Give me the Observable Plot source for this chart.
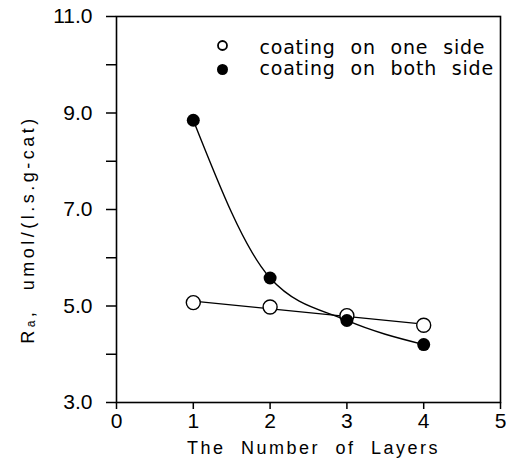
<!DOCTYPE html>
<html>
<head>
<meta charset="utf-8">
<script src="https://cdn.jsdelivr.net/npm/d3@7"></script>
<script src="https://cdn.jsdelivr.net/npm/@observablehq/plot@0.6"></script>
<style>
  body { margin: 0; background: white; }
</style>
</head>
<body>
<div id="chart"></div>
<script>
const layers = [1, 2, 3, 4];
const oneSide = [5.07, 4.98, 4.8, 4.6];
const bothSides = [8.85, 5.58, 4.7, 4.2];
const xTicks = [0, 1, 2, 3, 4, 5];
const yTicks = [3, 4, 5, 6, 7, 8, 9, 10, 11];
const legendLabels = ["coating on one side", "coating on both side"];
const xTitle = "The Number of Layers";
const yTitle = "Rₐ, umol/(l.s.g-cat)";

const oneData = layers.map((l, i) => ({layers: l, value: oneSide[i]}));
const bothData = layers.map((l, i) => ({layers: l, value: bothSides[i]}));

const chart = Plot.plot({
  width: 506,
  height: 459,
  marginLeft: 116,
  marginRight: 6,
  marginTop: 16,
  marginBottom: 57,
  x: {domain: [0, 5]},
  y: {domain: [3, 11]},
  style: {fontFamily: "'Liberation Sans', Arial, sans-serif", color: "black", background: "white", overflow: "visible"},
  marks: [
    Plot.frame({stroke: "black", strokeWidth: 1.6}),
    Plot.axisX({ticks: xTicks, tickSize: 7, tickPadding: 4, fontSize: 21, strokeWidth: 1.5, label: null, tickFormat: d => String(d)}),
    Plot.axisY({ticks: yTicks, tickSize: 10, tickPadding: 14, fontSize: 21, strokeWidth: 1.5, label: null, tickFormat: d => d % 2 ? d.toFixed(1) : ""}),
    Plot.linearRegressionY(oneData, {x: "layers", y: "value", ci: 0, stroke: "black", strokeWidth: 1.4}),
    Plot.line(bothData, {x: "layers", y: "value", curve: "monotone-x", stroke: "black", strokeWidth: 1.4}),
    Plot.dot(oneData, {x: "layers", y: "value", r: 7, fill: "white", stroke: "black", strokeWidth: 1.4}),
    Plot.dot(bothData, {x: "layers", y: "value", r: 6.5, fill: "black"}),
    Plot.dot([legendLabels[0]], {frameAnchor: "top-left", dx: 106, dy: 29, r: 4.5, fill: "white", stroke: "black", strokeWidth: 1.8}),
    Plot.dot([legendLabels[1]], {frameAnchor: "top-left", dx: 106, dy: 53, r: 5.5, fill: "black"}),
    Plot.text([legendLabels[0]], {frameAnchor: "top-left", dx: 143, dy: 31, textAnchor: "start", lineAnchor: "middle", fontSize: 19, fontFamily: "'DejaVu Sans', sans-serif", fill: "black"}),
    Plot.text([legendLabels[1]], {frameAnchor: "top-left", dx: 143, dy: 52, textAnchor: "start", lineAnchor: "middle", fontSize: 19, fontFamily: "'DejaVu Sans', sans-serif", fill: "black"}),
    Plot.text([xTitle], {frameAnchor: "bottom", dx: 5, dy: 51, textAnchor: "middle", fontSize: 18, fill: "black"}),
    Plot.text([yTitle], {frameAnchor: "left", dx: -88, dy: 20, rotate: -90, textAnchor: "middle", fontSize: 18, fill: "black"})
  ]
});

// spacing styles for the text blocks
d3.select(chart).selectAll("text").each(function() {
  const t = this.textContent;
  if (legendLabels.includes(t)) {
    this.style.letterSpacing = "0.8px";
    this.style.wordSpacing = "8px";
  } else if (t === xTitle) {
    this.style.letterSpacing = "2.5px";
    this.style.wordSpacing = "8px";
  } else if (t === yTitle) {
    this.style.letterSpacing = "3.5px";
    this.style.wordSpacing = "10px";
  }
});

document.getElementById("chart").appendChild(chart);
</script>
</body>
</html>
